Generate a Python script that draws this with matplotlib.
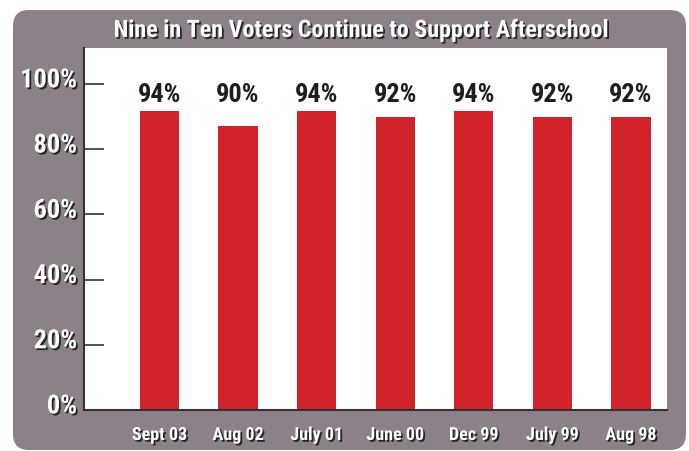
import matplotlib
matplotlib.use("Agg")
import matplotlib.pyplot as plt
import matplotlib.patheffects as pe
import matplotlib.transforms as mtrans
from matplotlib.patches import FancyBboxPatch

# ---- data ----
categories = ["Sept 03", "Aug 02", "July 01", "June 00", "Dec 99", "July 99", "Aug 98"]
bar_heights = [91.7, 87.1, 91.7, 89.9, 91.7, 89.9, 89.9]   # as drawn
value_labels = ["94%", "90%", "94%", "92%", "94%", "92%", "92%"]
y_ticks = [0, 20, 40, 60, 80, 100]
y_tick_labels = ["0%", "20%", "40%", "60%", "80%", "100%"]
title = "Nine in Ten Voters Continue to Support Afterschool"

FONT = ["Roboto Condensed", "Archivo Narrow", "DejaVu Sans"]
GRAY = "#8c8189"
RED = "#d2232a"

W, H = 689, 451
DPI = 100
fig = plt.figure(figsize=(W / DPI, H / DPI), dpi=DPI, facecolor="white")

# background frame (pixel coordinates)
bg = fig.add_axes([0, 0, 1, 1], zorder=0)
bg.set_xlim(0, W)
bg.set_ylim(H, 0)
bg.axis("off")
bg.add_patch(FancyBboxPatch((13, 10), 673, 440,
                            boxstyle="round,pad=0,rounding_size=16",
                            facecolor=GRAY, edgecolor="none"))

shadow = [pe.withSimplePatchShadow(offset=(1.3, -1.3), shadow_rgbFace="#262626", alpha=1.0)]

bg.text(361, 37, title, color="white", fontsize=17.3, fontweight="bold",
        family=FONT, ha="center", va="baseline", path_effects=shadow)

# main axes: x 84..667, y 48..410 px
left, right, top, bottom = 84, 667, 48, 410
ax = fig.add_axes([left / W, 1 - bottom / H, (right - left) / W, (bottom - top) / H], zorder=1)
ax.set_facecolor("white")

x = list(range(len(categories)))
ax.bar(x, bar_heights, width=0.5, color=RED, zorder=2)
ax.set_xlim(-0.96, 6.46)
ax.set_ylim(0, 111)

for xi, lab in zip(x, value_labels):
    ax.text(xi, 94.4, lab, ha="center", va="baseline", fontsize=19,
            fontweight="bold", family=FONT, color="#1e1e1e")

for s in ["top", "right"]:
    ax.spines[s].set_visible(False)
for s in ["left", "bottom"]:
    ax.spines[s].set_color("#333333")
    ax.spines[s].set_linewidth(1.5)

ax.set_yticks(y_ticks)
ax.set_yticklabels([])
ax.tick_params(axis="y", direction="in", length=14.5, width=1.2, color="#333333")
ax.set_xticks(x)
ax.set_xticklabels([])
ax.tick_params(axis="x", length=0)

# y tick labels (slightly raised, as in the reference)
ylab_tr = mtrans.offset_copy(ax.get_yaxis_transform(), fig=fig, x=-7, y=-3.5, units="dots")
for yv, lab in zip(y_ticks, y_tick_labels):
    ax.text(0, yv, lab, transform=ylab_tr, ha="right", va="baseline",
            fontsize=19, fontweight="bold", family=FONT, color="white",
            path_effects=shadow, clip_on=False)

# x category labels
xlab_tr = mtrans.offset_copy(ax.get_xaxis_transform(), fig=fig, x=0, y=-30, units="dots")
for xi, lab in zip(x, categories):
    ax.text(xi, 0, lab, transform=xlab_tr, ha="center", va="baseline",
            fontsize=13, fontweight="bold", family=FONT, color="white",
            path_effects=shadow, clip_on=False)

fig.savefig("out.png", dpi=DPI, facecolor="white")
